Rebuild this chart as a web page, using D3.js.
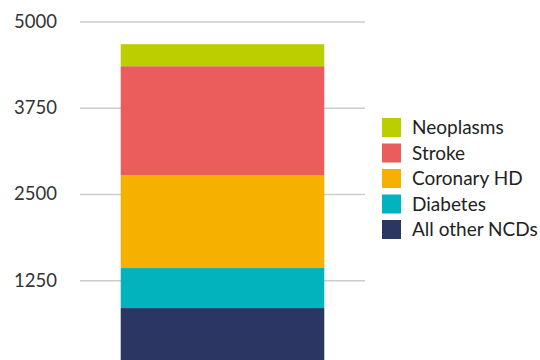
<!DOCTYPE html>
<html><head><meta charset="utf-8">
<script src="https://cdn.jsdelivr.net/npm/d3@7"></script>
<style>body{margin:0;background:#fff}svg{display:block}</style>
</head><body>
<script>
const categories = ["Total"];
const seriesNames = ["All other NCDs", "Diabetes", "Coronary HD", "Stroke", "Neoplasms"];
const seriesValues = [[847], [580], [1347], [1578], [319]];
const seriesColors = ["#2b3663", "#02b2bd", "#f6b000", "#eb5c5c", "#bccd00"];
const tickValues = [1250, 2500, 3750, 5000];

const W = 540, H = 360;
const svg = d3.select("body").append("svg").attr("width", W).attr("height", H);
const font = "Lato, 'Open Sans', sans-serif";

const y = d3.scaleLinear().domain([0, 5000]).range([366.5, 21.5]);
const x = d3.scaleBand().domain(categories).range([80, 365]).paddingInner(0).paddingOuter(0.2);

// gridlines
const yAxis = d3.axisLeft(y).tickValues(tickValues).tickSize(-(365 - 80)).tickPadding(23).tickFormat(d3.format("d"));
const g = svg.append("g").attr("transform", "translate(80,0)").call(yAxis);
g.select(".domain").remove();
g.selectAll(".tick line").attr("stroke", "#cccccc").attr("stroke-width", 1.3);
g.selectAll(".tick text").attr("fill", "#333").style("font-family", font).style("font-size", "18.5px");

// stack
const rows = categories.map((c, i) => {
  const o = {cat: c};
  seriesNames.forEach((s, j) => o[s] = seriesValues[j][i]);
  return o;
});
const stack = d3.stack().keys(seriesNames)(rows);
svg.append("g").selectAll("g").data(stack).join("g")
  .attr("fill", (d, i) => seriesColors[i])
  .selectAll("rect").data(d => d).join("rect")
  .attr("x", d => x(d.data.cat))
  .attr("width", x.bandwidth())
  .attr("y", d => y(d[1]))
  .attr("height", d => y(d[0]) - y(d[1]));

// legend (top to bottom: reverse of stack)
const legendOrder = seriesNames.map((s, i) => i).reverse();
const lg = svg.append("g").attr("transform", "translate(382,118)");
const item = lg.selectAll("g").data(legendOrder).join("g")
  .attr("transform", (d, i) => `translate(0,${i * 25.5})`);
item.append("rect").attr("width", 19).attr("height", 19).attr("fill", d => seriesColors[d]);
item.append("text").attr("x", 30).attr("y", 9.5).attr("dy", "0.35em")
  .attr("fill", "#222").style("font-family", font).style("font-size", "19px")
  .text(d => seriesNames[d]);
</script>
</body></html>
